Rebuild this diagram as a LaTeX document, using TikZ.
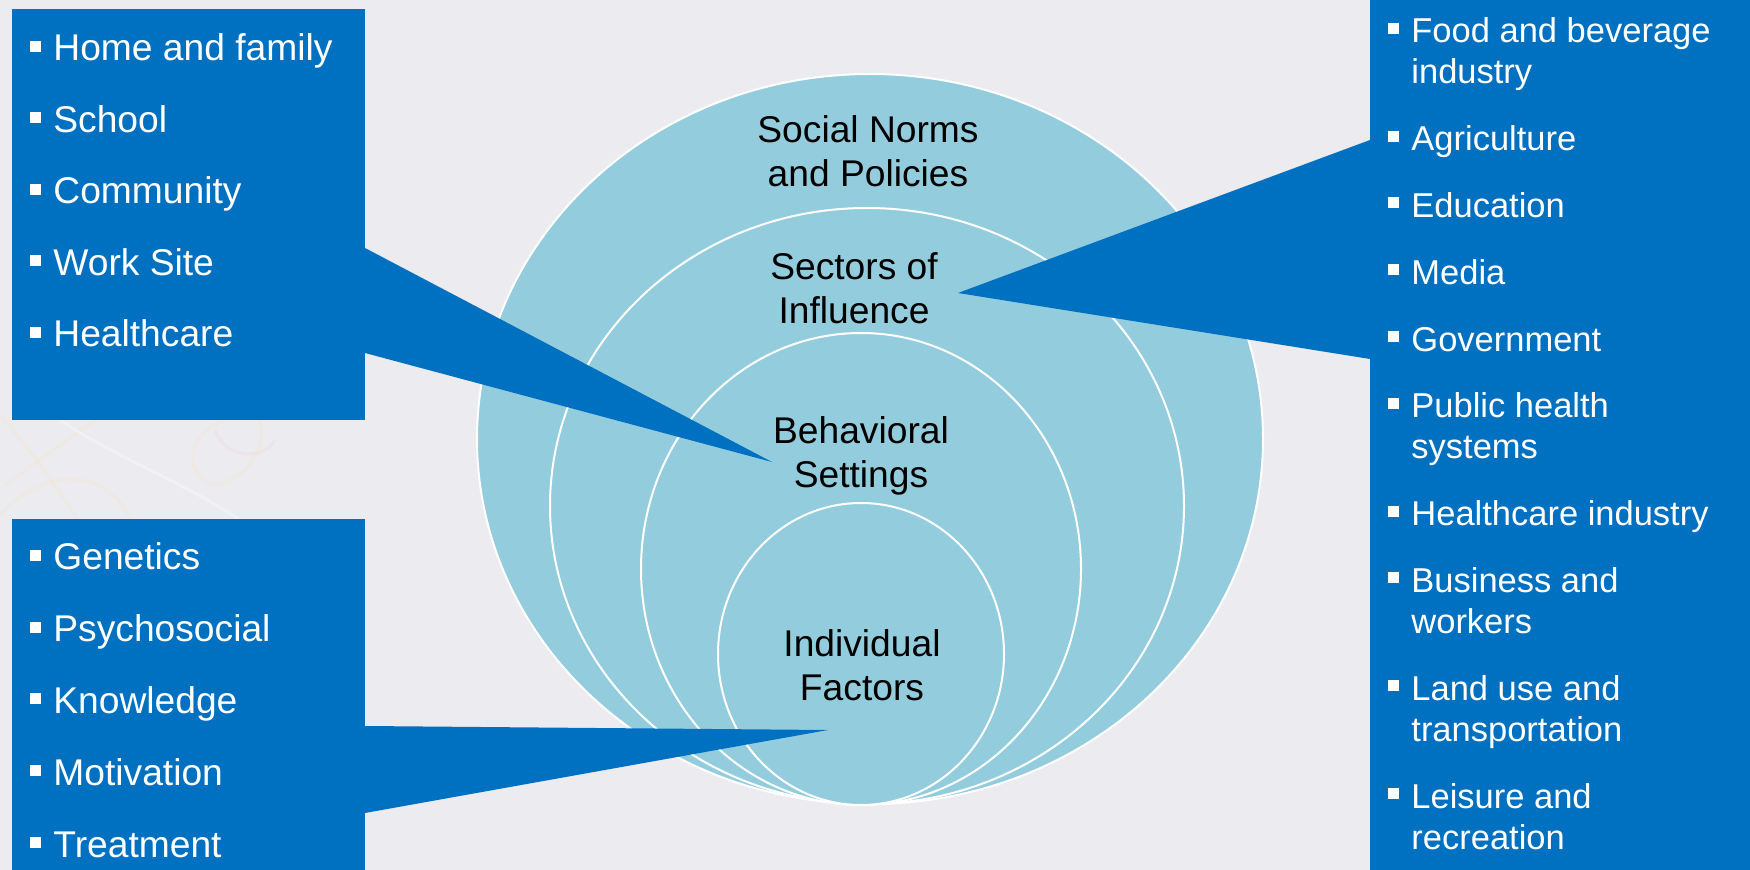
\documentclass[tikz,border=0pt]{standalone}
\usepackage{fontspec}
\setmainfont{Liberation Sans}
\usetikzlibrary{shapes.geometric, positioning}

\definecolor{bgcol}{HTML}{ECEBF0}
\definecolor{boxblue}{HTML}{0070C0}
\definecolor{ringblue}{HTML}{93CDDD}
\definecolor{swirlyellow}{HTML}{F4E7C2}
\definecolor{swirlpink}{HTML}{F2D6DA}

\tikzstyle{ring} = [
	ellipse,
	draw=white,
	line width=1pt,
	fill=ringblue,
	inner sep=0pt
]
\tikzstyle{ringlabel} = [
	align=center,
	anchor=base,
	inner sep=0pt,
	font=\fontsize{18.6pt}{22pt}\selectfont
]
\tikzstyle{callout} = [
	rectangle,
	fill=boxblue,
	draw=none,
	inner sep=0pt,
	anchor=north west
]
\tikzstyle{itemlist} = [
	align=left,
	anchor=base west,
	inner sep=0pt,
	text=white
]
\tikzstyle{swirl} = [line width=1.5pt, opacity=0.3]

\newcommand{\bul}{\makebox[11.5pt][l]{\rule[4.5pt]{5.5pt}{5.5pt}}}
\newcommand{\hang}{\hspace*{11.5pt}}

\begin{document}
\begin{tikzpicture}[x=0.5pt, y=-0.5pt]

		\fill [bgcol] (0,0) rectangle (1750,870);
		\useasboundingbox (0,0) rectangle (1750,870);

		\draw [swirl, swirlyellow] (0,415) .. controls (30,450) and (60,490) .. (90,540);
		\draw [swirl, swirlyellow] (5,485) .. controls (40,460) and (80,430) .. (110,410);
		\draw [swirl, swirlyellow] (0,515) .. controls (40,470) and (110,460) .. (135,530);
		\draw [swirl, swirlyellow] (225,420) .. controls (170,440) and (195,500) .. (230,480) .. controls (270,460) and (270,410) .. (240,400);
		\draw [swirl, swirlpink] (215,430) .. controls (225,460) and (265,460) .. (275,440);
		\draw [swirl, white] (60,420) .. controls (120,460) and (180,480) .. (240,520);

		\node (normsring) [ring, minimum width=393pt, minimum height=365pt] at (870,439) {};
		\node (sectorsring) [ring, minimum width=317pt, minimum height=298pt] at (867,506) {};
		\node (settingsring) [ring, minimum width=220pt, minimum height=236pt] at (861,569) {};
		\node (individualring) [ring, minimum width=143pt, minimum height=151pt] at (861,654) {};

		\node (settingsbox) [callout, minimum width=176.5pt, minimum height=205.5pt] at (12,9) {};
		\node (individualbox) [callout, minimum width=176.5pt, minimum height=175.5pt] at (12,519) {};
		\node (sectorsbox) [callout, minimum width=190pt, minimum height=435pt] at (1370,0) {};

		\coordinate (settingstip) at (772,462);
		\coordinate (individualtip) at (828,730);
		\coordinate (sectorstip) at (958,293);

		\fill [boxblue] (365,248) -- (settingstip) -- (365,353) -- cycle;
		\fill [boxblue] (365,726) -- (individualtip) -- (365,813) -- cycle;
		\fill [boxblue] (1370,140) -- (sectorstip) -- (1370,359) -- cycle;

		\node (normslbl) [ringlabel] at (868,187) {Social Norms\\and Policies};
		\node (sectorslbl) [ringlabel] at (854,324) {Sectors of\\Influence};
		\node (settingslbl) [ringlabel] at (861,488) {Behavioral\\Settings};
		\node (individuallbl) [ringlabel] at (862,701) {Individual\\Factors};

		\node (settingslist) [itemlist, font=\fontsize{18.6pt}{22pt}\selectfont] at (30,347) {
			\bul Home and family\\[13.75pt]
			\bul School\\[13.75pt]
			\bul Community\\[13.75pt]
			\bul Work Site\\[13.75pt]
			\bul Healthcare};

		\node (individuallist) [itemlist, font=\fontsize{18.6pt}{22pt}\selectfont] at (30,857) {
			\bul Genetics\\[13.9pt]
			\bul Psychosocial\\[13.9pt]
			\bul Knowledge\\[13.9pt]
			\bul Motivation\\[13.9pt]
			\bul Treatment};

		\node (sectorslist) [itemlist, font=\fontsize{17.25pt}{20.5pt}\selectfont] at (1388,849) {
			\bul Food and beverage\\ \hang industry\\[12.9pt]
			\bul Agriculture\\[12.9pt]
			\bul Education\\[12.9pt]
			\bul Media\\[12.9pt]
			\bul Government\\[12.9pt]
			\bul Public health\\ \hang systems\\[12.9pt]
			\bul Healthcare industry\\[12.9pt]
			\bul Business and\\ \hang workers\\[12.9pt]
			\bul Land use and\\ \hang transportation\\[12.9pt]
			\bul Leisure and\\ \hang recreation};

	\end{tikzpicture}
\end{document}
